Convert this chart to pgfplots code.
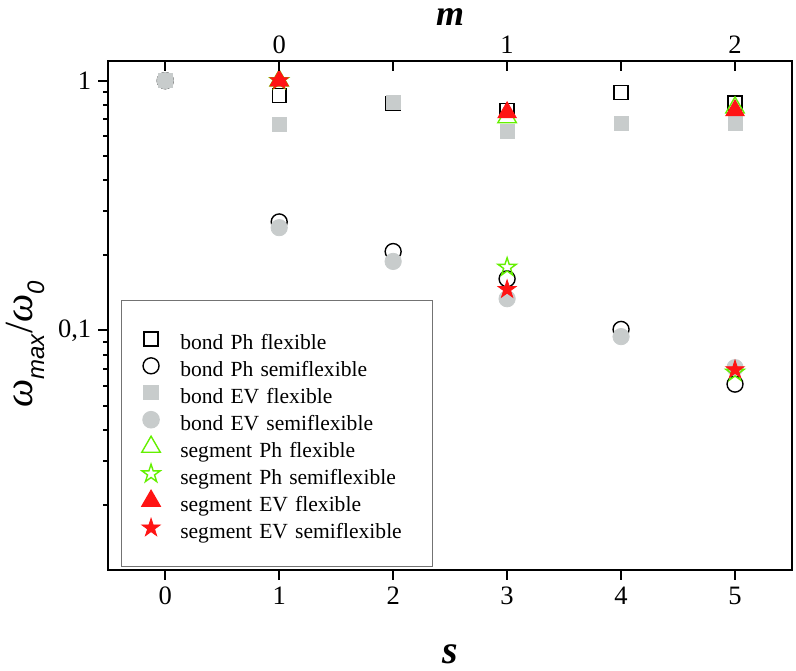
\documentclass[border=0pt]{standalone}
\usepackage{fontspec}
\setmainfont{Liberation Serif}
\setsansfont{Liberation Sans}
\usepackage{pgfplots}
\pgfplotsset{compat=1.18}
\definecolor{evgray}{RGB}{200,204,204}
\definecolor{sgreen}{RGB}{100,240,0}
\definecolor{sred}{RGB}{255,20,20}
\makeatletter
\def\fstarpath{%
  \pgfpathmoveto{\pgfpointpolar{90}{\pgfplotmarksize}}%
  \pgfpathlineto{\pgfpointpolar{126}{0.382\pgfplotmarksize}}%
  \pgfpathlineto{\pgfpointpolar{162}{\pgfplotmarksize}}%
  \pgfpathlineto{\pgfpointpolar{198}{0.382\pgfplotmarksize}}%
  \pgfpathlineto{\pgfpointpolar{234}{\pgfplotmarksize}}%
  \pgfpathlineto{\pgfpointpolar{270}{0.382\pgfplotmarksize}}%
  \pgfpathlineto{\pgfpointpolar{306}{\pgfplotmarksize}}%
  \pgfpathlineto{\pgfpointpolar{342}{0.382\pgfplotmarksize}}%
  \pgfpathlineto{\pgfpointpolar{18}{\pgfplotmarksize}}%
  \pgfpathlineto{\pgfpointpolar{54}{0.382\pgfplotmarksize}}%
  \pgfpathclose}
\pgfdeclareplotmark{fstar}{\fstarpath\pgfusepathqstroke}
\pgfdeclareplotmark{fstar*}{\fstarpath\pgfusepathqfillstroke}
\makeatother
\begin{document}
\begin{tikzpicture}
\begin{axis}[name=main,
  scale only axis, width=342.5pt, height=255pt,
  ymode=log, xmin=-0.5, xmax=5.5, ymin=0.011, ymax=1.2,
  xtick={0,1,2,3,4,5}, xtick pos=bottom, ytick pos=left,
  ytick={0.1,1}, yticklabels={{0,1},1},
  minor ytick={0.02,0.03,0.04,0.05,0.06,0.07,0.08,0.09,0.2,0.3,0.4,0.5,0.6,0.7,0.8,0.9},
  tick align=outside,
  major tick length=5pt, minor tick length=2.5pt,
  axis line style={line width=1pt}, every tick/.style={line width=1pt, black},
  /pgf/number format/assume math mode=true,
  tick label style={font=\fontsize{13.3}{16}\selectfont},
  xlabel={\textbf{\textit{s}}},
  xlabel style={font=\fontsize{20}{24}\selectfont, at={(axis description cs:0.5,-0.165)}, anchor=center},
  ylabel={\textit{ω}\raisebox{-0.28em}{\fontsize{12}{12}\selectfont\textsf{\textit{max}}}/\textit{ω}\raisebox{-0.28em}{\fontsize{12}{12}\selectfont\textsf{\textit{0}}}},
  ylabel style={font=\fontsize{20}{24}\selectfont, at={(axis description cs:-0.121,0.443)}, anchor=center, rotate=0},
  legend cell align=left,
  legend style={at={(axis description cs:0.019,0.0059)}, anchor=south west,
    draw=black!55, line width=0.6pt, inner xsep=10pt, inner ysep=14pt,
    font=\fontsize{10.8}{13}\selectfont,
    nodes={inner ysep=0pt, text height=10.5pt, text depth=0pt, text width=114.5pt},
    row sep=3pt, column sep=8pt},
]
\addplot[only marks, mark=square, mark size=3.5pt, mark options={black, line width=0.7pt, fill=none}]
  coordinates {(0,1) (1,0.87) (2,0.81) (3,0.759) (4,0.895) (5,0.813)};
\addlegendentry{bond Ph flexible}
\addplot[only marks, mark=o, mark size=4pt, mark options={black, line width=0.7pt, fill=none}]
  coordinates {(0,1) (1,0.272) (2,0.207) (3,0.161) (4,0.101) (5,0.061)};
\addlegendentry{bond Ph semiflexible}
\addplot[only marks, mark=square*, mark size=3.5pt, mark options={draw=evgray, fill=evgray}]
  coordinates {(0,1) (1,0.667) (2,0.815) (3,0.625) (4,0.673) (5,0.673)};
\addlegendentry{bond EV flexible}
\addplot[only marks, mark=*, mark size=4.1pt, mark options={draw=evgray, fill=evgray}]
  coordinates {(0,1) (1,0.258) (2,0.189) (3,0.134) (4,0.0945) (5,0.071)};
\addlegendentry{bond EV semiflexible}
\addplot[only marks, mark=triangle, mark size=5.35pt, mark options={draw=sgreen, line width=0.7pt, fill=none}]
  coordinates {(1,1.0) (3,0.713) (5,0.78)};
\addlegendentry{segment Ph flexible}
\addplot[only marks, mark=fstar, mark size=4.8pt, mark options={draw=sgreen, line width=0.7pt, fill=none}]
  coordinates {(1,1.0) (3,0.179) (5,0.068)};
\addlegendentry{segment Ph semiflexible}
\addplot[only marks, mark=triangle*, mark size=5.35pt, mark options={draw=sred, fill=sred}]
  coordinates {(1,1.0) (3,0.746) (5,0.76)};
\addlegendentry{segment EV flexible}
\addplot[only marks, mark=fstar*, mark size=4.8pt, mark options={draw=sred, fill=sred, line width=0.4pt}]
  coordinates {(1,1.0) (3,0.146) (5,0.0697)};
\addlegendentry{segment EV semiflexible}
\end{axis}
\begin{axis}[
  scale only axis, width=342.5pt, height=255pt,
  ymode=log, xmin=-0.5, xmax=5.5, ymin=0.011, ymax=1.2,
  axis x line*=top, hide y axis,
  xtick={0,1,2,3,4,5}, xticklabels={,0,,1,,2},
  tick align=inside, major tick length=5pt,
  axis line style={line width=1pt}, every tick/.style={line width=1pt, black},
  /pgf/number format/assume math mode=true,
  tick label style={font=\fontsize{13.3}{16}\selectfont},
  xlabel={\textbf{\textit{m}}},
  xlabel style={font=\fontsize{18}{22}\selectfont, at={(axis description cs:0.5,1.086)}, anchor=center},
]
\addplot[draw=none] coordinates {(0,1) (5,1)};
\end{axis}
\path ([shift={(-53.5pt,-48pt)}]main.south west) rectangle ([shift={(2pt,30.5pt)}]main.north east);
\end{tikzpicture}
\end{document}
